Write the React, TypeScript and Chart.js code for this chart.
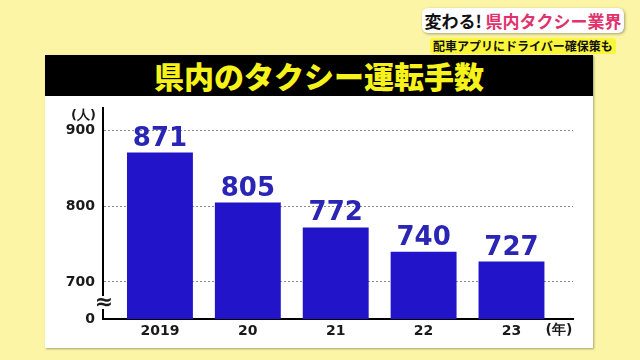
import React, { useEffect, useRef } from "react";
import { Chart, registerables } from "chart.js";

Chart.register(...registerables);

const years = ["2019", "20", "21", "22", "23"];
const drivers = [871, 805, 772, 740, 727];
const yTickValues = [700, 800, 900];
const yBreakLabel = "0";
const yUnit = "(人)";
const xUnit = "(年)";
const title = "県内のタクシー運転手数";

const yAxisMin = 651;
const yAxisMax = 930;

const BAR = "#2114c9";
const LABEL = "#2a25b4";
const FONT = "'DejaVu Sans', Verdana, sans-serif";

export default function App() {
  const ref = useRef<HTMLCanvasElement | null>(null);

  useEffect(() => {
    if (!ref.current) return;
    const extras = {
      id: "extras",
      afterDatasetsDraw(chart: any) {
        const ctx = chart.ctx;
        const meta = chart.getDatasetMeta(0);
        ctx.save();
        ctx.fillStyle = LABEL;
        ctx.font = `bold 26px ${FONT}`;
        ctx.textAlign = "center";
        ctx.textBaseline = "alphabetic";
        meta.data.forEach((bar: any, i: number) => {
          ctx.fillText(String(drivers[i]), bar.x, bar.y - 7);
        });
        ctx.restore();
      },
      afterDraw(chart: any) {
        const ctx = chart.ctx;
        const ys = chart.scales.y;
        const area = chart.chartArea;
        ctx.save();
        // axis break
        const by = ys.getPixelForValue(yAxisMin) - 16;
        ctx.fillStyle = "#ffffff";
        ctx.fillRect(area.left - 3, by - 7, 6, 13);
        ctx.fillStyle = "#1a1a1a";
        ctx.font = `bold 22px ${FONT}`;
        ctx.textAlign = "center";
        ctx.textBaseline = "middle";
        ctx.fillText("≈", area.left + 1, by);
        // units
        ctx.font = `bold 13px ${FONT}`;
        ctx.textAlign = "right";
        ctx.fillText(yUnit, ys.right - 7, area.top + 8);
        ctx.font = `bold 14px ${FONT}`;
        ctx.textAlign = "center";
        ctx.fillText(xUnit, area.right - 14, area.bottom + 11);
        ctx.restore();
      },
    };

    const chart = new Chart(ref.current, {
      type: "bar",
      data: {
        datasets: [
          {
            data: drivers.map((v, i) => ({ x: i, y: v })),
            backgroundColor: BAR,
            borderWidth: 0,
            categoryPercentage: 0.75,
            barPercentage: 1,
          },
        ],
      },
      options: {
        animation: false,
        responsive: false,
        maintainAspectRatio: false,
        layout: { padding: { top: 108, right: 67, left: 0, bottom: 0 } },
        plugins: { legend: { display: false }, tooltip: { enabled: false } },
        scales: {
          x: {
            type: "linear",
            offset: false,
            min: -0.648,
            max: 4.7,
            afterBuildTicks: (s: any) => {
              s.ticks = years.map((_, i) => ({ value: i }));
            },
            afterFit: (s: any) => {
              s.height = 41;
            },
            grid: { display: false, drawTicks: false, offset: false },
            border: { display: true, color: "#000", width: 2 },
            ticks: {
              padding: 4,
              color: "#1a1a1a",
              font: { family: FONT, size: 14, weight: "bold" },
              maxRotation: 0,
              autoSkip: false,
              callback: (v: any) => years[Math.round(Number(v))] ?? "",
            },
          },
          y: {
            min: yAxisMin,
            max: yAxisMax,
            beginAtZero: false,
            afterBuildTicks: (s: any) => {
              s.ticks = [yAxisMin, ...yTickValues].map((v) => ({ value: v }));
            },
            afterFit: (s: any) => {
              s.width = 103;
            },
            grid: {
              drawTicks: false,
              lineWidth: 1,
              color: (c: any) =>
                c.tick && c.tick.value === yAxisMin ? "rgba(0,0,0,0)" : "#8a8a8a",
            },
            border: { display: true, color: "#000", width: 2, dash: [2, 2] },
            ticks: {
              padding: 8,
              color: "#1a1a1a",
              font: { family: FONT, size: 14, weight: "bold" },
              autoSkip: false,
              callback: (v: any) => (Number(v) === yAxisMin ? yBreakLabel : String(v)),
            },
          },
        },
      },
      plugins: [extras],
    } as any);
    return () => chart.destroy();
  }, []);

  return (
    <div
      style={{
        position: "absolute",
        left: 0,
        top: 0,
        width: 640,
        height: 360,
        background: "#fcf5a6",
        overflow: "hidden",
        fontFamily: "'Noto Sans CJK JP', sans-serif",
      }}
    >
      <div
        style={{
          position: "absolute",
          left: 45,
          top: 55,
          width: 548,
          height: 293,
          background: "#ffffff",
          boxShadow: "1px 1px 2px rgba(0,0,0,0.35)",
        }}
      />
      <div
        style={{
          position: "absolute",
          left: 45,
          top: 55,
          width: 548,
          height: 41,
          background: "#000000",
          color: "#f6f21a",
          fontSize: 30,
          fontWeight: 900,
          lineHeight: "41px",
          textAlign: "center",
          letterSpacing: 0,
        }}
      >
        {title}
      </div>
      <div
        style={{
          position: "absolute",
          left: 422,
          top: 8,
          width: 202,
          height: 25,
          background: "#ffffff",
          borderRadius: 6,
          boxShadow: "1px 1px 3px rgba(0,0,0,0.35)",
          fontSize: 17,
          fontWeight: 700,
          lineHeight: "25px",
          whiteSpace: "nowrap",
          textAlign: "center",
        }}
      >
        <span style={{ color: "#111" }}>変わる! </span>
        <span style={{ color: "#e0336d" }}>県内タクシー業界</span>
      </div>
      <div
        style={{
          position: "absolute",
          left: 430,
          top: 38,
          width: 186,
          height: 16,
          background: "#fcf63a",
          borderRadius: 3,
          fontSize: 12,
          fontWeight: 700,
          lineHeight: "16px",
          color: "#111",
          whiteSpace: "nowrap",
          textAlign: "center",
        }}
      >
        配車アプリにドライバー確保策も
      </div>
      <canvas
        ref={ref}
        width={640}
        height={360}
        style={{ position: "absolute", left: 0, top: 0, width: 640, height: 360 }}
      />
    </div>
  );
}
